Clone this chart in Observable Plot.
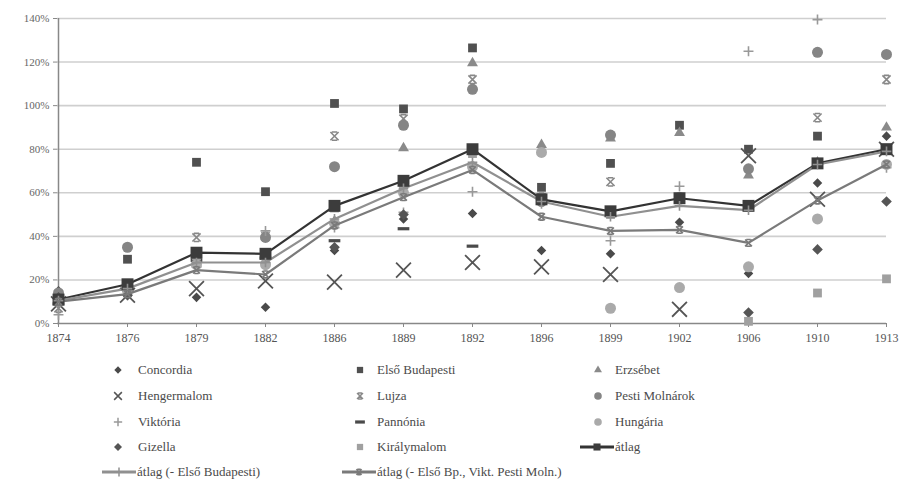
<!DOCTYPE html>
<html><head><meta charset="utf-8">
<script src="https://cdn.jsdelivr.net/npm/d3@7"></script>
<script src="https://cdn.jsdelivr.net/npm/@observablehq/plot@0.6"></script>
<style>
body{margin:0;background:#fff;}
#wrap{position:relative;width:902px;height:480px;font-family:"Liberation Serif","DejaVu Serif","Times New Roman",serif;}
#wrap svg.chart{position:absolute;left:0;top:0;}
.lg{position:absolute;font-family:"Liberation Serif","DejaVu Serif",serif;font-size:13px;color:#4a4a4a;white-space:nowrap;line-height:16px;}
.sw{position:absolute;}
</style></head><body><div id="wrap"></div>
<script>
// ---- data (values in %) ----
const years = ["1874","1876","1879","1882","1886","1889","1892","1896","1899","1902","1906","1910","1913"];
const yTicks = [0,20,40,60,80,100,120,140];

const concordia     = [15, 14, 12, 7.5, 33.5, 48, 50.5, 33.5, 32, 46.5, 23, 64.5, 86];
const elsoBudapesti = [12, 29.5, 74, 60.5, 101, 98.5, 126.5, 62.5, 73.5, 91, 80, 86, 80.5];
const erzsebet      = [10, 16, 30, 29, 47, 80.5, 119.5, 82, 85, 87.5, 68, 74, 90];
const hengermalom   = [9, 13, 16, 19.5, 19, 24.5, 28, 26, 22.5, 6.5, 77, 57, 80];
const lujza         = [7, 14, 39.5, 40, 86, 94, 112, 58, 65, 57, 54, 94.5, 112];
const pestiMolnarok = [14, 35, 30, 39.5, 72, 91, 107.5, 56, 86.5, 58, 71, 124.5, 123.5];
const viktoria      = [4, 13, 26, 42.5, 44, 51, 60.5, 55, 38, 63, 125, 139.5, 71.5];
const pannonia      = [9, 16, 29, 30, 38, 43.5, 35.5, null, null, null, null, null, null];
const hungaria      = [11, 15, 27, 27, 46, 60, 72, 78.5, 7, 16.5, 26, 48, 73];
const gizella       = [12, 13, null, null, 35, 50, null, null, null, null, 5, 34, 56];
const kiralymalom   = [10, 17, 31, 31, 53, 64, 78, 57, 50, 58, 1, 14, 20.5];
const atlag         = [11, 18, 32.5, 32, 54, 65.5, 80, 57, 51.5, 57.5, 54, 73.5, 80];
const atlag2        = [10.5, 16, 28, 28, 48, 62, 74, 56, 49, 54, 52, 73, 79];
const atlag3        = [10, 13.5, 24.5, 22.5, 45, 58, 70.5, 49, 42.5, 43, 37, 56.5, 73];

// ---- custom symbols ----
const dashSym = {draw(ctx, size){ const w = Math.sqrt(size)*0.55; const h = 1.6; ctx.rect(-w, -h, 2*w, 2*h); }};
const starSym = {draw(ctx, size){ const r = Math.sqrt(size)*0.42; const b = r*0.65;
  ctx.moveTo(-r,-r); ctx.lineTo(r,r); ctx.moveTo(r,-r); ctx.lineTo(-r,r);
  ctx.moveTo(-b,-r); ctx.lineTo(b,-r); ctx.moveTo(-b,r); ctx.lineTo(b,r); }};

const scatter = [
  {name:"Concordia", v:concordia, symbol:"diamond2", color:"#4a4a4a", r:4.3, lr:3.3, filled:true},
  {name:"Első Budapesti", v:elsoBudapesti, symbol:"square2", color:"#505050", r:5.6, lr:4, filled:true},
  {name:"Erzsébet", v:erzsebet, symbol:"triangle2", color:"#8a8a8a", r:5.2, lr:3.8, filled:true},
  {name:"Hengermalom", v:hengermalom, symbol:"times", color:"#555", r:6.8, lr:3.6, filled:false, sw:1.8},
  {name:"Lujza", v:lujza, symbol:starSym, color:"#888", r:5.5, lr:4, filled:false, sw:1.6},
  {name:"Pesti Molnárok", v:pestiMolnarok, symbol:"circle", color:"#858585", r:5.5, lr:3.8, filled:true},
  {name:"Viktória", v:viktoria, symbol:"plus", color:"#999", r:3.3, lr:2.8, filled:false, sw:1.6},
  {name:"Pannónia", v:pannonia, symbol:dashSym, color:"#4a4a4a", r:6, lr:5, filled:true},
  {name:"Hungária", v:hungaria, symbol:"circle", color:"#aaa", r:5.5, lr:3.8, filled:true},
  {name:"Gizella", v:gizella, symbol:"diamond2", color:"#555", r:4.8, lr:3.6, filled:true},
  {name:"Királymalom", v:kiralymalom, symbol:"square2", color:"#a0a0a0", r:5.6, lr:4, filled:true}
];
const lines = [
  {name:"átlag", v:atlag, color:"#333", sw:2.2, symbol:"square2", mcolor:"#3c3c3c", r:7.6, lr:4.5, filled:true},
  {name:"átlag (- Első Budapesti)", v:atlag2, color:"#909090", sw:2.2, symbol:"plus", mcolor:"#909090", r:3.2, lr:3, filled:false},
  {name:"átlag (- Első Bp., Vikt. Pesti Moln.)", v:atlag3, color:"#7a7a7a", sw:2.2, symbol:starSym, mcolor:"#7a7a7a", r:4.6, lr:3.6, filled:false}
];
const rows = arr => years.map((year,i)=>({year, value:arr[i]})).filter(d=>d.value!=null);

const marks = [
  Plot.gridY(yTicks.filter(t=>t>0), {stroke:"#cfcfcf", strokeOpacity:1, strokeWidth:1.6}),
  Plot.ruleY([0], {stroke:"#888", strokeWidth:1.5}),
  Plot.ruleX([years[0]], {y1:0, y2:140, stroke:"#888", strokeWidth:1.5}),
  Plot.axisY({ticks:yTicks, tickSize:4, tickPadding:4, tickFormat:d=>d+"%", fontSize:11, stroke:"#888", fill:"#666"}),
  Plot.axisX({tickSize:4, tickPadding:6, fontSize:12, stroke:"#888", fill:"#555"})
];
for (const s of scatter) {
  marks.push(Plot.dot(rows(s.v), {x:"year", y:"value", symbol:()=>s.name, r:s.r,
    fill: s.filled ? s.color : "none", stroke: s.filled ? "none" : s.color, strokeWidth: s.sw||1}));
}
for (const l of lines) {
  marks.push(Plot.line(rows(l.v), {x:"year", y:"value", stroke:l.color, strokeWidth:l.sw}));
}
for (const l of lines) {
  marks.push(Plot.dot(rows(l.v), {x:"year", y:"value", symbol:()=>l.name, r:l.r,
    fill: l.filled ? l.mcolor : "none", stroke: l.filled ? "none" : l.mcolor, strokeWidth:1.6}));
}

const allDefs = [...scatter, ...lines.map(l=>({...l, color:l.mcolor}))];
const chart = Plot.plot({
  width:902, height:350,
  marginTop:18, marginBottom:27, marginLeft:57, marginRight:16,
  style:{fontFamily:"'Liberation Serif', 'DejaVu Serif', serif", background:"#fff"},
  x:{type:"point", domain:years, padding:0, label:null},
  y:{domain:[0,140], label:null},
  symbol:{domain: allDefs.map(d=>d.name), range: allDefs.map(d=>d.symbol)},
  marks
});
chart.classList.add("chart");
const wrap = document.getElementById("wrap");
wrap.appendChild(chart);

// ---- legend ----
function symPath(sym, r){
  const t = typeof sym === "string" ? ({diamond2:d3.symbolDiamond2, square2:d3.symbolSquare2, triangle2:d3.symbolTriangle2, times:d3.symbolTimes, plus:d3.symbolPlus, circle:d3.symbolCircle})[sym] : sym;
  return d3.symbol(t, Math.PI*r*r)();
}
function swatch(def, line, x, y){
  const w = line ? 34 : 20, h = 20;
  const svg = d3.create("svg").attr("class","sw").attr("width",w).attr("height",h)
    .style("left",(x - w/2)+"px").style("top",(y - h/2)+"px");
  if (line) svg.append("line").attr("x1",0).attr("x2",w).attr("y1",h/2).attr("y2",h/2).attr("stroke",def.color).attr("stroke-width",3);
  svg.append("path").attr("transform",`translate(${w/2},${h/2})`).attr("d", symPath(def.symbol, def.lr))
    .attr("fill", def.filled ? (def.mcolor||def.color) : "none")
    .attr("stroke", def.filled ? "none" : (def.mcolor||def.color)).attr("stroke-width", 1.5);
  wrap.appendChild(svg.node());
}
function label(text, x, y){
  const d = document.createElement("div"); d.className="lg"; d.textContent=text;
  d.style.left = x+"px"; d.style.top = (y-8)+"px"; wrap.appendChild(d);
}
const rowY = [370, 396, 422, 447, 472];
const colSym = [118, 360, 598], colTxt = [138, 377, 615];
scatter.forEach((s,i)=>{
  const r = Math.floor(i/3), c = i%3;
  swatch(s, false, colSym[c], rowY[r]); label(s.name, colTxt[c], rowY[r]);
});
swatch(lines[0], true, 597, rowY[3]); label(lines[0].name, 615, rowY[3]);
swatch(lines[1], true, 119, rowY[4]); label(lines[1].name, 137, rowY[4]);
swatch(lines[2], true, 359, rowY[4]); label(lines[2].name, 377, rowY[4]);
</script></body></html>
